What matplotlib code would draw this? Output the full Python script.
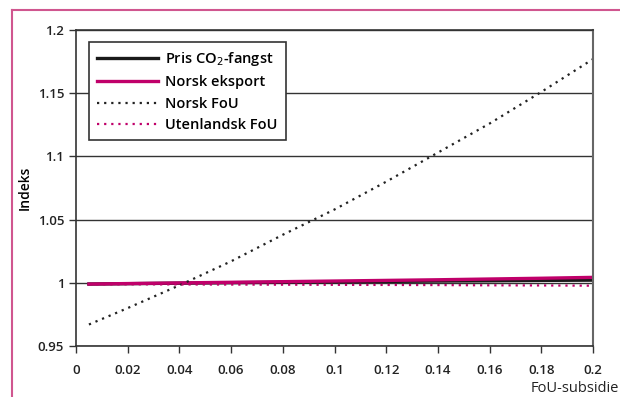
import matplotlib.pyplot as plt

plt.rcParams['font.family'] = ['Open Sans', 'DejaVu Sans']

# FoU-subsidie
x = [0.005, 0.02, 0.04, 0.06, 0.08, 0.1, 0.12, 0.14, 0.16, 0.18, 0.2]

pris_co2 = [0.9990, 0.9993, 0.9997, 1.0001, 1.0004, 1.0008, 1.0011, 1.0014, 1.0016, 1.0019, 1.0021]
norsk_eksport = [0.9990, 0.9994, 0.9999, 1.0004, 1.0009, 1.0014, 1.0019, 1.0024, 1.0030, 1.0036, 1.0043]
norsk_fou = [0.967, 0.980, 0.998, 1.017, 1.038, 1.058, 1.080, 1.103, 1.126, 1.151, 1.177]
utenlandsk_fou = [0.9988, 0.9988, 0.9987, 0.9986, 0.9985, 0.9984, 0.9983, 0.9982, 0.9980, 0.9979, 0.9977]

xticks = [0, 0.02, 0.04, 0.06, 0.08, 0.1, 0.12, 0.14, 0.16, 0.18, 0.2]
xticklabels = ['0', '0.02', '0.04', '0.06', '0.08', '0.1', '0.12', '0.14', '0.16', '0.18', '0.2']
yticks = [0.95, 1.0, 1.05, 1.1, 1.15, 1.2]
yticklabels = ['0.95', '1', '1.05', '1.1', '1.15', '1.2']

pink = '#c0006a'

fig = plt.figure(figsize=(6.2, 3.97), dpi=100)
# pink frame (top and left edges)
fig.add_artist(plt.Line2D([12/620, 12/620], [0, 1 - 10/397], color='#d0568f', lw=1.5))
fig.add_artist(plt.Line2D([12/620, 1], [1 - 10/397, 1 - 10/397], color='#d0568f', lw=1.5))

ax = fig.add_axes([76/620, 1 - 346/397, (593 - 76)/620, (346 - 30)/397])

ax.plot(x, pris_co2, color='#1a1a1a', lw=2.4, label='Pris CO$_2$-fangst')
ax.plot(x, norsk_eksport, color=pink, lw=2.4, label='Norsk eksport')
ax.plot(x, norsk_fou, color='#222222', lw=1.6, ls=(0, (1, 2.2)), label='Norsk FoU')
ax.plot(x, utenlandsk_fou, color=pink, lw=1.6, ls=(0, (1, 2.2)), label='Utenlandsk FoU')

ax.set_xlim(0, 0.2)
ax.set_ylim(0.95, 1.2)
ax.set_xticks(xticks)
ax.set_xticklabels(xticklabels)
ax.set_yticks(yticks)
ax.set_yticklabels(yticklabels)
ax.yaxis.grid(True, color='#333333', lw=1)
ax.set_axisbelow(True)
for s in ax.spines.values():
    s.set_color('#333333')
    s.set_linewidth(1.2)
ax.spines['right'].set_color('#666666')
ax.spines['right'].set_linewidth(1.5)
ax.tick_params(axis='both', direction='out', length=5, width=1, color='#333333',
               labelsize=9.5, labelcolor='#222222')
ax.tick_params(axis='x', pad=8)
for lbl in ax.get_xticklabels() + ax.get_yticklabels():
    lbl.set_fontweight('semibold')

ax.set_ylabel('Indeks', fontsize=10, fontweight='semibold', labelpad=4)
fig.text(0.999, 1 - 388/397, 'FoU-subsidie', ha='right', va='center',
         fontsize=10.5, fontweight='medium', color='#222222')

leg = ax.legend(loc='upper left', bbox_to_anchor=(0.025, 0.962), frameon=True, fancybox=False,
                handlelength=4.2, handletextpad=0.5, borderpad=0.55, labelspacing=0.5,
                borderaxespad=0, prop={'size': 10.5, 'weight': 'semibold'})
leg.get_frame().set_edgecolor('#333333')
leg.get_frame().set_linewidth(1.2)
leg.get_frame().set_alpha(1)

fig.savefig('out.png', dpi=100)
